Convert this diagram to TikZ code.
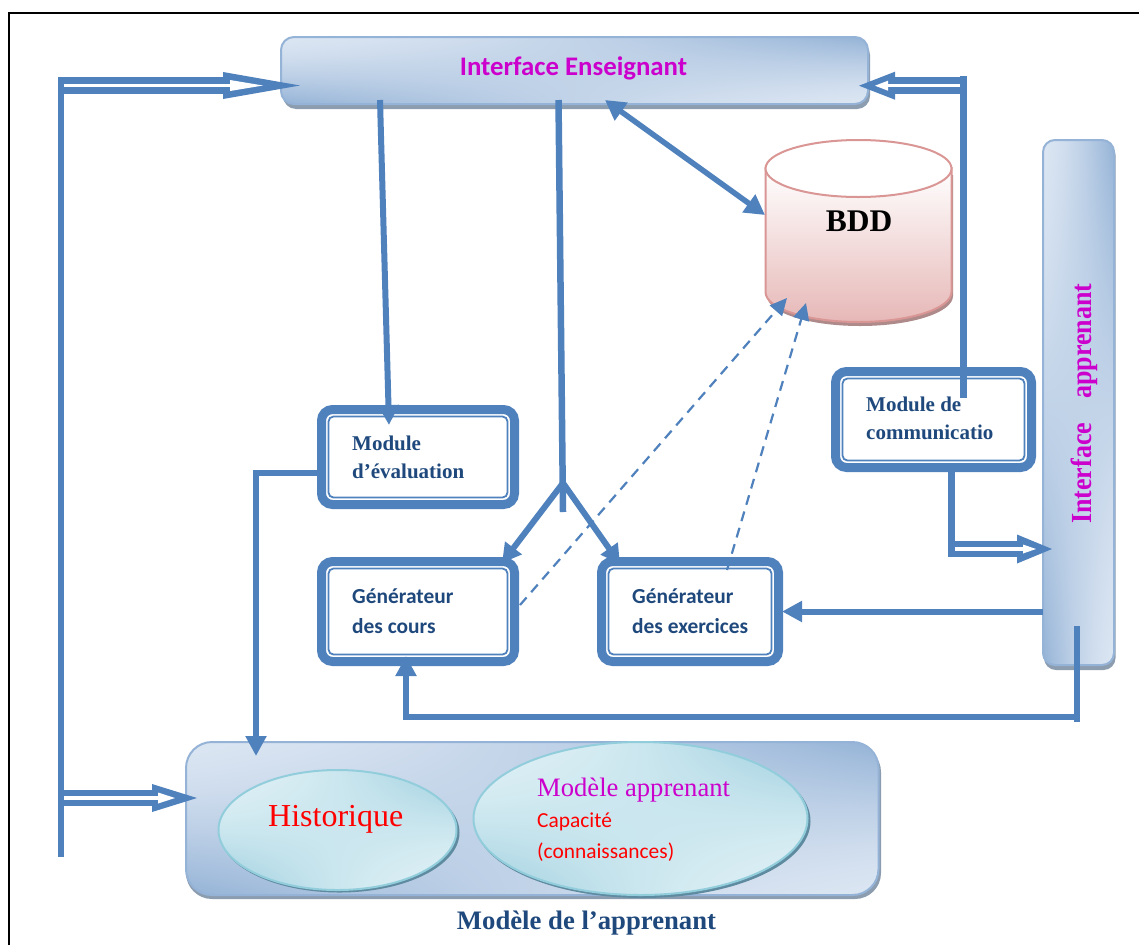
\documentclass[tikz,border=0pt]{standalone}
\usepackage{fontspec}
\setmainfont{Liberation Serif}
\newfontfamily\calib{Carlito}
\usetikzlibrary{arrows.meta,calc}
\definecolor{bl}{HTML}{4F81BD}
\definecolor{navy}{HTML}{1F497D}
\definecolor{mag}{HTML}{CC00CC}
\definecolor{boxline}{HTML}{95B3D7}
\definecolor{shad}{HTML}{8C9DB0}
\definecolor{teal1}{HTML}{92CDDC}
\definecolor{tealshad}{HTML}{5F8BA0}
\definecolor{pinkline}{HTML}{D99694}
\definecolor{pinkbot}{HTML}{E6B8B7}
\definecolor{pinkdark}{HTML}{AE8A8A}
\pgfdeclarefunctionalshading{bluebil}{\pgfpointorigin}{\pgfpoint{100bp}{100bp}}{}{
25 sub 50 div 1 exch sub exch 25 sub 50 div 2 copy mul 2 mul 3 1 roll add exch sub
abs dup sqrt mul
dup dup -0.28 mul 0.86 add 3 1 roll -0.20 mul 0.90 add exch -0.11 mul 0.95 add}
\pgfdeclarefunctionalshading{tealbil}{\pgfpointorigin}{\pgfpoint{100bp}{100bp}}{}{
25 sub 50 div 1 exch sub exch 25 sub 50 div 2 copy mul 2 mul 3 1 roll add exch sub
abs dup mul
dup dup -0.30 mul 0.87 add 3 1 roll -0.15 mul 0.94 add exch -0.10 mul 0.96 add}
\newcommand\hd[4][bl]{\path[fill=#1] (#2) -- ($(#2)+(#3,#4)$) -- ($(#2)+(#3,-#4)$) -- cycle;}
\tikzset{
  x=1pt,y=-1pt,
  panel/.style={draw=boxline,line width=2pt,shading=bluebil},
  panelshadow/.style={fill=shad},
  oval/.style={draw=teal1,line width=2pt,shading=tealbil},
  ovalshadow/.style={fill=tealshad},
  modouter/.style={draw=bl,line width=9pt,rounded corners=11pt,fill=white},
  modinner/.style={draw=bl,line width=1.8pt,rounded corners=5pt},
  conn/.style={draw=bl,line width=6pt},
  head/.style={-{Triangle[length=20pt,width=20pt]}},
  dashconn/.style={draw=bl,line width=2.2pt,dash pattern=on 10pt off 7pt,
     -{Triangle[length=17pt,width=16pt]}},
  dblouter/.style={draw=bl,line width=16.5pt},
  dblinner/.style={draw=white,line width=3.2pt},
  lab/.style={inner sep=0pt,anchor=base west},
  evalt/.style={lab,text=navy,font=\fontsize{21}{22}\selectfont\bfseries},
  gent/.style={lab,text=navy,font=\calib\fontsize{21.4}{22}\selectfont\bfseries},
}
\begin{document}
\begin{tikzpicture}
\useasboundingbox (0,0) rectangle (1139,945);
\path[fill=white] (0,0) rectangle (1139,945);
% page frame
\draw[black,line width=2pt] (9,945) -- (9,12.5) -- (1139,12.5);

% ---- panels
\path[panelshadow,rounded corners=13pt] (283,42) rectangle (870,109);
\path[panel,rounded corners=13pt] (281,37) rectangle (868,104);
\node[inner sep=0pt,text=mag,font=\calib\fontsize{26.8}{28}\selectfont\bfseries] (ens) at (573.5,68.5) {Interface Enseignant};
\coordinate (ensL) at (300,85.5);
\coordinate (ensR) at (859,85.7);

\path[panelshadow,rounded corners=12pt] (1044,143) rectangle (1115.5,670);
\path[panel,rounded corners=12pt] (1043,140) rectangle (1114,665);
\node[inner sep=0pt,rotate=90,anchor=base west,text=mag,font=\fontsize{26}{28}\selectfont\bfseries] (app) at (1091,524) {\scalebox{1}[1.12]{Interface\hspace{24pt}apprenant}};

\path[panelshadow,rounded corners=26pt] (186,746) rectangle (881,899);
\path[panel,rounded corners=26pt] (186,742) rectangle (878.5,895);
\node[inner sep=0pt,anchor=base,text=navy,font=\fontsize{26.7}{28}\selectfont\bfseries] (modl) at (586.5,929) {Modèle de l’apprenant};

% ---- ovals
\path[ovalshadow] (339.5,832.5) ellipse [x radius=120,y radius=60];
\path[oval] (337.5,830) ellipse [x radius=119,y radius=60];
\node[lab,text=red,font=\fontsize{32}{33}\selectfont] (hist) at (268,826) {Historique};
\path[ovalshadow] (642.5,821) ellipse [x radius=168,y radius=77];
\path[oval] (640.5,818.5) ellipse [x radius=167,y radius=76.5];
\node[lab,text=mag,font=\fontsize{26.6}{28}\selectfont] (mapp) at (537,796) {Modèle apprenant};
\node[lab,text=red,font=\calib\fontsize{21.4}{22}\selectfont] (cap) at (537,827) {Capacité};
\node[lab,text=red,font=\calib\fontsize{21.4}{22}\selectfont] (conn) at (537,858) {(connaissances)};

% ---- database
\path[fill=pinkdark] (767,175) -- (767,296) arc[start angle=180,end angle=0,x radius=93,y radius=30] -- (953,175) -- cycle;
\path[draw=pinkline,line width=2pt,top color=white,bottom color=pinkbot]
  (765.5,168) -- (765.5,292) arc[start angle=180,end angle=0,x radius=93,y radius=30] -- (951.5,168) -- cycle;
\path[draw=pinkline,line width=2pt,fill=white] (858.5,168.5) ellipse [x radius=93,y radius=28.5];
\node[inner sep=0pt,font=\fontsize{31.5}{33}\selectfont\bfseries] (bdd) at (859,221) {BDD};
\coordinate (bddL) at (765,215);
\coordinate (bddA) at (787,298);
\coordinate (bddB) at (806,303);

% ---- module boxes
\foreach \nm/\xa/\ya/\xb/\yb in {e/317/405/519/509,c/317/557/519/666,g/597/557/783/666,m/831/367/1036/472}{
  \path[modouter] (\xa+4.5,\ya+4.5) rectangle (\xb-4.5,\yb-4.5);
  \path[modinner] (\xa+11.5,\ya+11.5) rectangle (\xb-11.5,\yb-11.5);
}
\node[evalt] (t1) at (352,450) {Module};
\node[evalt] (t2) at (352,478) {d’évaluation};
\node[gent] (t3) at (352,603) {Générateur};
\node[gent] (t4) at (352,633) {des cours};
\node[gent] (t5) at (632,603) {Générateur};
\node[gent] (t6) at (632,633) {des exercices};
\node[evalt] (t7) at (866,411) {Module de};
\node[evalt] (t8) at (866,439) {communicatio};

% ---- connector points
\coordinate (barTop) at (61,77);
\coordinate (barBot) at (61,857);
\coordinate (dtA) at (58,85.5);
\coordinate (dtB) at (64,85.5);
\coordinate (dtE) at (225,85.5);
\coordinate (dtT) at (263,85.5);
\coordinate (dtW) at (231,85.5);
\coordinate (dbA) at (58,798);
\coordinate (dbB) at (64,798);
\coordinate (dbE) at (154,798);
\coordinate (dbT) at (175,798);
\coordinate (dbW) at (159,798);
\coordinate (histL) at (197,798);
\coordinate (brTop) at (963.5,76);
\coordinate (brBot) at (963.5,398);
\coordinate (drA) at (967,85.7);
\coordinate (drB) at (960,85.7);
\coordinate (drE) at (893,85.7);
\coordinate (drW) at (888,85.7);
\coordinate (drT) at (875,85.7);
\coordinate (cmBot) at (951.5,472);
\coordinate (cmEnd) at (951.5,557);
\coordinate (cmA) at (948,549);
\coordinate (cmB) at (955,549);
\coordinate (cmE) at (1019,549);
\coordinate (cmW) at (1023,549);
\coordinate (cmT) at (1036,549);
\coordinate (appIn) at (1052,549);
\coordinate (a1) at (380,100);
\coordinate (eIn) at (389,425);
\coordinate (m1) at (558.5,100);
\coordinate (m2) at (563,512);
\coordinate (fork) at (563,483);
\coordinate (cIn) at (502,563);
\coordinate (gIn) at (620,564);
\coordinate (bi) at (605,100);
\coordinate (cD) at (520,605);
\coordinate (gD) at (727,570);
\coordinate (eL) at (317,473);
\coordinate (eC) at (256,473);
\coordinate (hIn) at (256,756);
\coordinate (gR) at (782,611.5);
\coordinate (aL) at (1043,611.5);
\coordinate (bS) at (1077,626);
\coordinate (bE) at (1077,722);
\coordinate (bH) at (1080,717);
\coordinate (bC) at (406,717);
\coordinate (cB) at (406,656);

% ---- single arrows
\draw[conn,head] (a1) -- (eIn);
\draw[conn,line width=6.5pt] (m1) -- (m2);
\draw[conn,-{Triangle[length=19pt,width=20pt]}] (fork) -- (cIn);
\draw[conn,-{Triangle[length=19pt,width=20pt]}] (fork) -- (gIn);
\draw[conn,line width=5.5pt,{Triangle[length=20pt,width=21pt]}-{Triangle[length=20pt,width=21pt]}] (bi) -- (bddL);
\draw[dashconn] (cD) -- (bddA);
\draw[dashconn] (gD) -- (bddB);
\draw[conn,head,line join=miter] (eL) -- (eC) -- (hIn);
\draw[conn,head] (aL) -- (gR);
\draw[conn] (bS) -- (bE);
\draw[conn,head,line join=miter] (bH) -- (bC) -- (cB);

% ---- double arrows
\draw[conn] (barTop) -- (barBot);
\draw[dblouter] (dtA) -- (dtE);
\hd{ensL}{-77}{13.5}
\draw[dblinner] (dtB) -- (dtW);
\hd[white]{dtT}{-33}{5.5}
\draw[dblouter] (dbA) -- (dbE);
\hd{histL}{-45}{14}
\draw[dblinner] (dbB) -- (dbW);
\hd[white]{dbT}{-17}{5.5}
\draw[conn,line width=7pt] (brTop) -- (brBot);
\draw[dblouter] (drA) -- (drE);
\hd{ensR}{36}{14}
\draw[dblinner] (drB) -- (drW);
\hd[white]{drT}{13}{5}
\draw[conn,line width=7pt] (cmBot) -- (cmEnd);
\draw[dblouter] (cmA) -- (cmE);
\hd{appIn}{-35}{14.5}
\draw[dblinner] (cmB) -- (cmW);
\hd[white]{cmT}{-13}{4.5}
\end{tikzpicture}
\end{document}
